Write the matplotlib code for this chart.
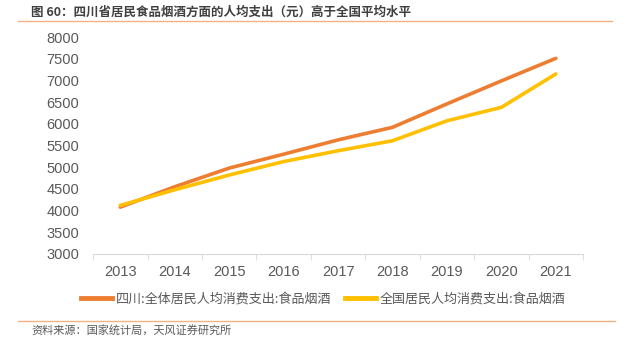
import matplotlib
matplotlib.use('Agg')
import matplotlib.pyplot as plt
from matplotlib.lines import Line2D

plt.rcParams['font.family'] = ['Noto Sans CJK SC', 'DejaVu Sans']

# data
years = ['2013', '2014', '2015', '2016', '2017', '2018', '2019', '2020', '2021']
sichuan = [4080, 4550, 4980, 5300, 5630, 5920, 6460, 6990, 7510]
national = [4120, 4480, 4820, 5130, 5380, 5610, 6070, 6380, 7150]
yticks = [3000, 3500, 4000, 4500, 5000, 5500, 6000, 6500, 7000, 7500, 8000]

title = '图 60：四川省居民食品烟酒方面的人均支出（元）高于全国平均水平'
source = '资料来源：国家统计局，天风证券研究所'
label_sc = '四川:全体居民人均消费支出:食品烟酒'
label_cn = '全国居民人均消费支出:食品烟酒'

grey = '#595959'
fig = plt.figure(figsize=(6.29, 3.4), dpi=100)
ax = fig.add_axes([0.148, 0.253, 0.779, 0.638])

x = range(len(years))
ax.plot(x, sichuan, color='#ED7D31', lw=2.6, solid_capstyle='round', label=label_sc)
ax.plot(x, national, color='#FFC000', lw=2.6, solid_capstyle='round', label=label_cn)

ax.set_xlim(-0.5, len(years) - 0.5)
ax.set_ylim(3000, 8000)
ax.set_yticks(yticks)
ax.set_xticks(list(x))
ax.set_xticklabels(years)
ax.set_xticks([i + 0.5 for i in range(-1, len(years))], minor=True)

for s in ['top', 'right', 'left']:
    ax.spines[s].set_visible(False)
ax.spines['bottom'].set_color('#D9D9D9')
ax.tick_params(axis='y', length=0, labelsize=10.5, labelcolor=grey, pad=10)
ax.tick_params(axis='x', which='major', length=0, labelsize=10.5, labelcolor=grey, pad=8)
ax.tick_params(axis='x', which='minor', length=4, color='#D9D9D9')
for lab in ax.get_xticklabels() + ax.get_yticklabels():
    lab.set_family(['Liberation Sans', 'DejaVu Sans'])

handles = [Line2D([], [], color='#ED7D31', lw=3.5), Line2D([], [], color='#FFC000', lw=3.5)]
leg = fig.legend(handles, [label_sc, label_cn], loc='center', bbox_to_anchor=(0.514, 0.121),
                 ncol=2, frameon=False, fontsize=9.4, handlelength=2.4, handletextpad=0.3,
                 columnspacing=1.0)
for t in leg.get_texts():
    t.set_color(grey)

fig.text(31 / 629, 1 - 12 / 340, title, fontsize=9, fontweight='bold', color='#404040',
         va='center', ha='left')
fig.text(31 / 629, 1 - 330 / 340, source, fontsize=8, color=grey, va='center', ha='left')
fig.add_artist(Line2D([18 / 629, 612 / 629], [1 - 21 / 340, 1 - 21 / 340], color='#F4B183', lw=1))
fig.add_artist(Line2D([18 / 629, 615 / 629], [1 - 321 / 340, 1 - 321 / 340], color='#F4B183', lw=1))

fig.savefig('out.png', dpi=100)
